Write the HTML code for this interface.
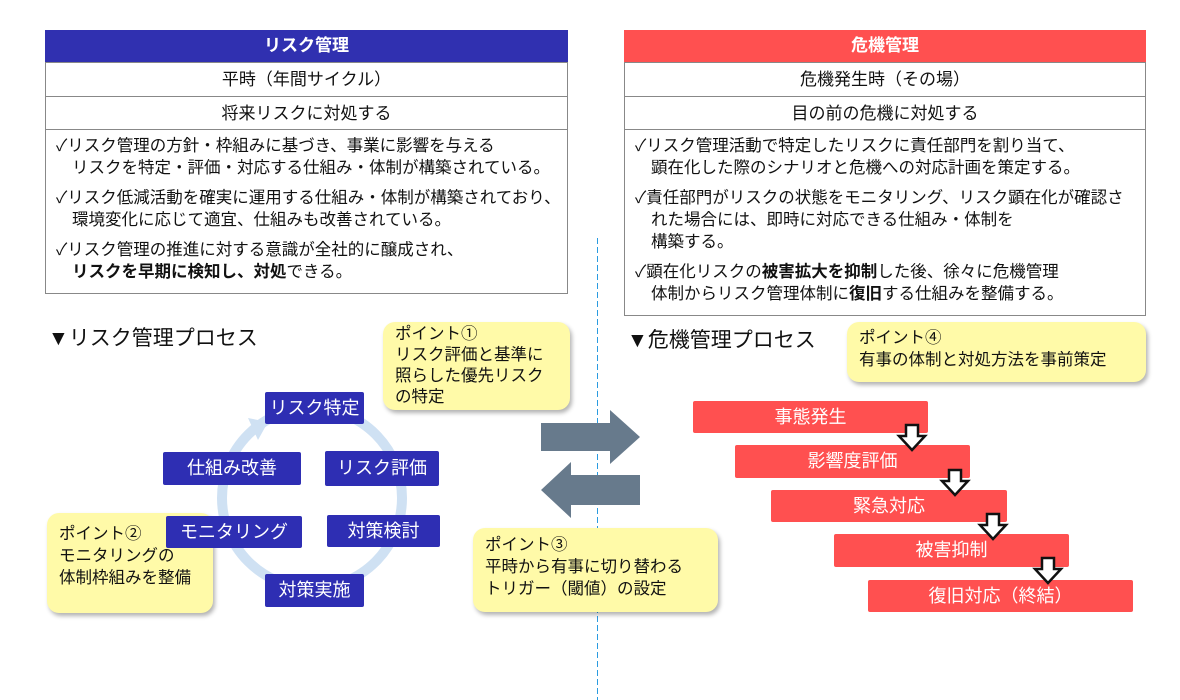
<!DOCTYPE html>
<html><head><meta charset="utf-8"><style>
body{margin:0;width:1180px;height:700px;background:#fff;position:relative;overflow:hidden;font-family:"Liberation Sans","Noto Sans CJK JP",sans-serif;color:#111}
.a{position:absolute;box-sizing:border-box}
.hd{color:#fff;font-weight:bold;font-size:17px;text-align:center;line-height:32px}
.row{border:1px solid #888;border-top:none;text-align:center;font-size:17px;background:#fff}
.list{border:1px solid #888;border-top:none;font-size:16.5px;line-height:22px;padding:5px 6px 0 10px}
.list p{margin:0 0 8px 16px;text-indent:-16px}
.bb{background:#2e2eb3;color:#fff;font-size:18px;text-align:center;border-radius:2px}
.yl{background:#fffaa8;border-radius:12px;box-shadow:2px 3px 4px rgba(0,0,0,.3);font-size:16.5px;line-height:22px;padding:2px 12px}
.rb{background:#ff5050;color:#fff;font-size:18px;text-align:center;line-height:32px;border-radius:2px}
</style></head><body>
<div class="a hd" style="left:45px;top:30px;width:523px;height:32px;background:#3030b0">リスク管理</div>
<div class="a row" style="left:45px;top:62px;width:523px;height:35px;line-height:34px;border-top:1px solid #888">平時（年間サイクル）</div>
<div class="a row" style="left:45px;top:97px;width:523px;height:33px;line-height:33px">将来リスクに対処する</div>
<div class="a list" style="left:45px;top:130px;width:523px;height:164px">
<p>✓リスク管理の方針・枠組みに基づき、事業に影響を与える<br>リスクを特定・評価・対応する仕組み・体制が構築されている。</p>
<p>✓リスク低減活動を確実に運用する仕組み・体制が構築されており、環境変化に応じて適宜、仕組みも改善されている。</p>
<p>✓リスク管理の推進に対する意識が全社的に醸成され、<br><b>リスクを早期に検知し、対処</b>できる。</p>
</div>
<div class="a hd" style="left:624px;top:30px;width:522px;height:32px;background:#ff5050">危機管理</div>
<div class="a row" style="left:624px;top:62px;width:522px;height:35px;line-height:34px;border-top:1px solid #888">危機発生時（その場）</div>
<div class="a row" style="left:624px;top:97px;width:522px;height:33px;line-height:33px">目の前の危機に対処する</div>
<div class="a list" style="left:624px;top:130px;width:522px;height:186px">
<p>✓リスク管理活動で特定したリスクに責任部門を割り当て、<br>顕在化した際のシナリオと危機への対応計画を策定する。</p>
<p>✓責任部門がリスクの状態をモニタリング、リスク顕在化が確認された場合には、即時に対応できる仕組み・体制を<br>構築する。</p>
<p>✓顕在化リスクの<b>被害拡大を抑制</b>した後、徐々に危機管理<br>体制からリスク管理体制に<b>復旧</b>する仕組みを整備する。</p>
</div>
<svg class="a" style="left:0;top:0" width="1180" height="700"><line x1="597.5" y1="238" x2="597.5" y2="700" stroke="#2a9be0" stroke-width="1" stroke-dasharray="6,3"/></svg>
<div class="a" style="left:48px;top:322px;font-size:21px">▼リスク管理プロセス</div>
<div class="a" style="left:627px;top:324px;font-size:21px">▼危機管理プロセス</div>
<svg class="a" style="left:0;top:0" width="1180" height="700">
<circle cx="312" cy="498" r="90" fill="none" stroke="#cfe1f3" stroke-width="10"/>
<polygon points="248,418 268,422 258,440" fill="#cfe1f3"/>
<polygon points="541,423 610,423 610,410 640,437 610,464 610,451 541,451" fill="#677a8c"/>
<polygon points="640,475 571,475 571,462 541,490 571,518 571,505 640,505" fill="#677a8c"/>
</svg>
<div class="a yl" style="left:383px;top:322px;width:187px;height:88px;line-height:21px">ポイント①<br>リスク評価と基準に<br>照らした優先リスク<br>の特定</div>
<div class="a yl" style="left:47px;top:513px;width:166px;height:100px;padding-top:10px">ポイント②<br>モニタリングの<br>体制枠組みを整備</div>
<div class="a yl" style="left:473px;top:528px;width:245px;height:84px;padding-top:6px">ポイント③<br>平時から有事に切り替わる<br>トリガー（閾値）の設定</div>
<div class="a yl" style="left:847px;top:322px;width:299px;height:60px;padding-top:5px">ポイント④<br>有事の体制と対処方法を事前策定</div>
<div class="a bb" style="left:265px;top:392px;width:99px;height:32px;line-height:32px">リスク特定</div>
<div class="a bb" style="left:163px;top:452px;width:138px;height:33px;line-height:33px">仕組み改善</div>
<div class="a bb" style="left:325px;top:451px;width:114px;height:35px;line-height:34px">リスク評価</div>
<div class="a bb" style="left:166px;top:516px;width:136px;height:32px;line-height:32px">モニタリング</div>
<div class="a bb" style="left:327px;top:515px;width:113px;height:32px;line-height:32px">対策検討</div>
<div class="a bb" style="left:265px;top:574px;width:99px;height:33px;line-height:33px">対策実施</div>
<div class="a rb" style="left:693px;top:401px;width:235px;height:32px">事態発生</div>
<div class="a rb" style="left:735px;top:445px;width:235px;height:33px">影響度評価</div>
<div class="a rb" style="left:771px;top:490px;width:236px;height:32px">緊急対応</div>
<div class="a rb" style="left:834px;top:534px;width:235px;height:33px">被害抑制</div>
<div class="a rb" style="left:868px;top:580px;width:265px;height:32px">復旧対応（終結）</div>
<svg class="a" style="left:0;top:0" width="1180" height="700">
<g fill="#fff" stroke="#111" stroke-width="2.5">
<polygon points="906,425 918,425 918,436 925,436 912,450 899,436 906,436"/>
<polygon points="949,470 961,470 961,481 968,481 955,495 942,481 949,481"/>
<polygon points="987,514 999,514 999,525 1006,525 993,539 980,525 987,525"/>
<polygon points="1042,558 1054,558 1054,569 1061,569 1048,583 1035,569 1042,569"/>
</g>
</svg>
</body></html>
